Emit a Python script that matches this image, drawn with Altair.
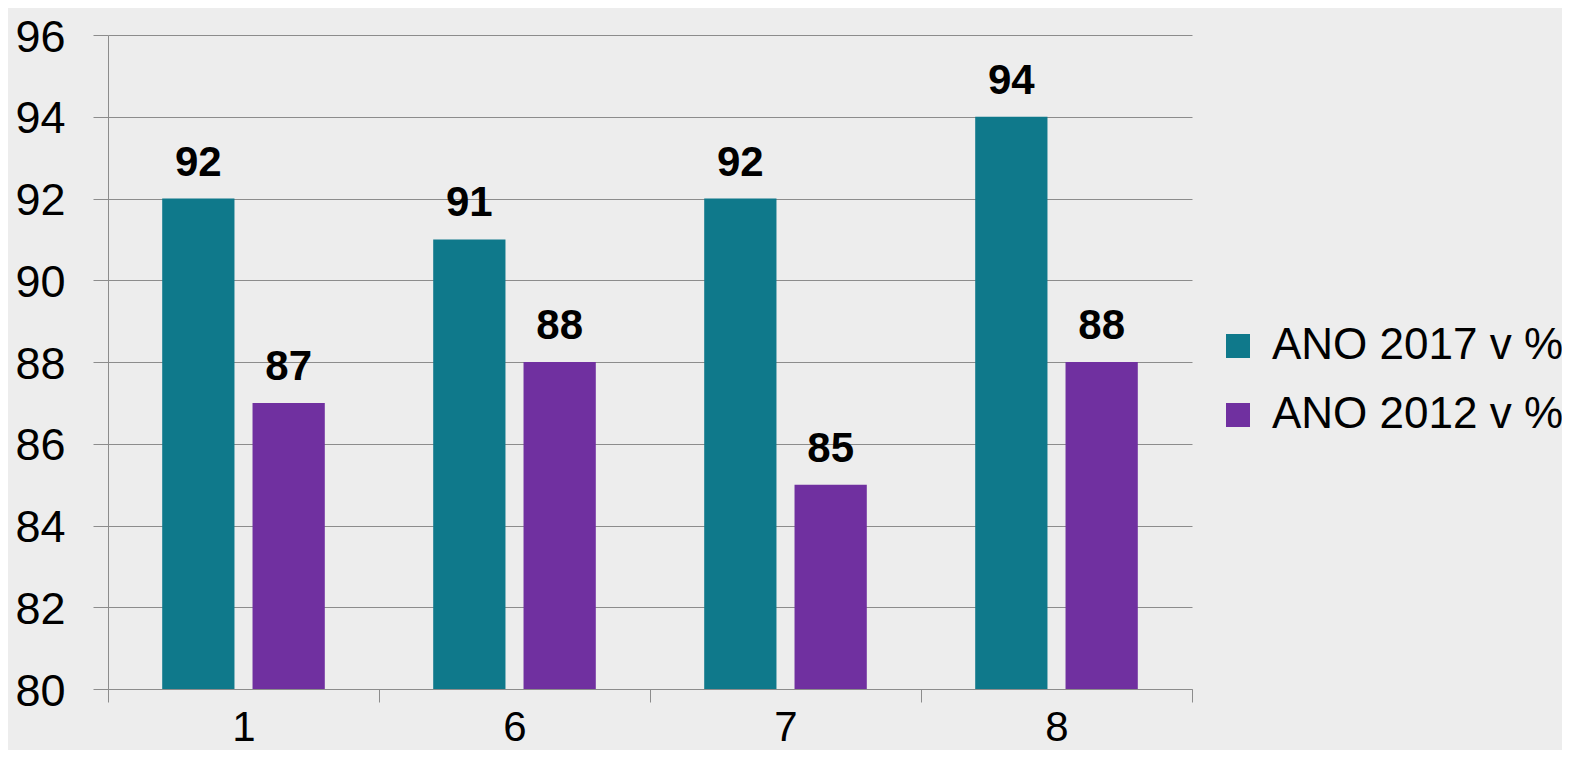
import altair as alt
import pandas as pd

categories = ["1", "6", "7", "8"]
series_names = ["ANO 2017 v %", "ANO 2012 v %"]
v2017 = [92, 91, 92, 94]
v2012 = [87, 88, 85, 88]
colors = ["#0F798B", "#7030A0"]
y_ticks = [80, 82, 84, 86, 88, 90, 92, 94, 96]

rows = []
for c, a, b in zip(categories, v2017, v2012):
    rows.append({"cat": c, "series": series_names[0], "value": a})
    rows.append({"cat": c, "series": series_names[1], "value": b})
df = pd.DataFrame(rows)

FONT = "Liberation Sans"

x_enc = alt.X(
    "cat:N",
    sort=categories,
    title=None,
    scale=alt.Scale(paddingInner=0, paddingOuter=0),
    axis=alt.Axis(
        labelAngle=0,
        labelFontSize=42,
        labelFont=FONT,
        labelColor="#000000",
        labelBaseline="alphabetic",
        labelPadding=38,
        tickBand="extent",
        tickSize=13,
        tickColor="#8C8C8C",
        domainColor="#8C8C8C",
        grid=False,
    ),
)
xo_enc = alt.XOffset(
    "series:N", sort=series_names,
    scale=alt.Scale(paddingInner=0.2, paddingOuter=0.6),
)
y_enc = alt.Y(
    "value:Q",
    title=None,
    scale=alt.Scale(domain=[80, 96], nice=False, zero=False, clamp=True),
    axis=alt.Axis(
        values=y_ticks,
        labelFontSize=45,
        labelFont=FONT,
        labelColor="#000000",
        labelBaseline="alphabetic",
        labelOffset=16,
        labelPadding=28,
        tickSize=15,
        tickColor="#8C8C8C",
        domainColor="#8C8C8C",
        gridColor="#8C8C8C",
        grid=True,
    ),
)

bars = alt.Chart(df).mark_bar().encode(
    x=x_enc,
    xOffset=xo_enc,
    y=y_enc,
    color=alt.Color(
        "series:N",
        sort=series_names,
        scale=alt.Scale(domain=series_names, range=colors),
        legend=alt.Legend(
            title=None,
            orient="none",
            legendX=1108,
            legendY=289,
            padding=0,
            symbolType="square",
            symbolSize=576,
            symbolStrokeWidth=0,
            symbolOpacity=1,
            labelFontSize=44,
            labelFont=FONT,
            labelColor="#000000",
            labelOffset=12,
            rowPadding=25,
            labelLimit=500,
        ),
    ),
)

labels = alt.Chart(df).mark_text(
    font=FONT, fontSize=42, fontWeight="bold", color="#000000",
    baseline="alphabetic", dy=-23,
).encode(
    x=alt.X("cat:N", sort=categories),
    xOffset=alt.XOffset("series:N", sort=series_names),
    y=alt.Y("value:Q"),
    text=alt.Text("value:Q"),
)

chart = (
    alt.layer(bars, labels)
    .properties(
        width=1084,
        height=654,
        autosize=alt.AutoSizeParams(type="none"),
        padding={"left": 100, "top": 27, "right": 370, "bottom": 61},
        background="#EDEDED",
    )
    .configure_view(stroke=None)
)

chart.save("out.html", embed_options={"renderer": "svg", "actions": False})
